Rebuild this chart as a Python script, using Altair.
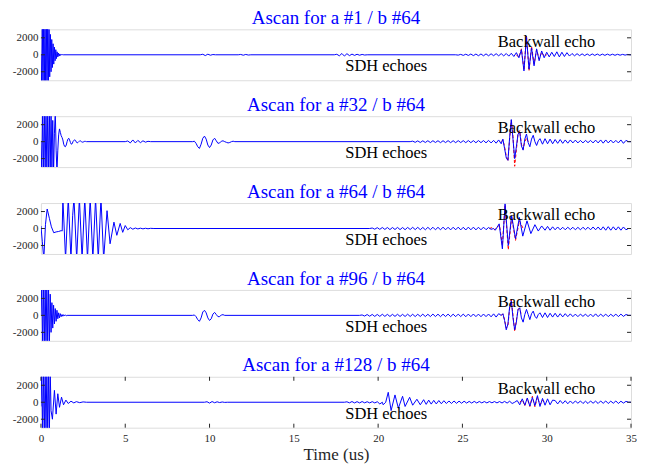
import altair as alt
import pandas as pd

# ---------------- data (time in us, amplitude) ----------------
# Each segment: (start_time, step, values)  or  (times_list, values_list)

# Panel 1 : a #1
P1_BURST = [0, -3600, 3600, -3600, 3600, -3600, 3600, -3600, 3600, -3600, 3400, -3200, 3000,
            -2600, 2400, -2000, 1800, -1500, 1300, -1100, 900, -700, 600, -450, 350, -250, 200,
            -150, 100, -70, 50, -30, 20, 0]
P1_W1 = [0, 60, -90, 70, -50, 30, 0]
P1_W2 = [0, 40, -50, 40, -30, 0]
P1_W3 = [0, 60, -120, 150, -150, 130, -100, 80, -70, 60, -50, 40, -30, 0]
P1_W4 = [0, -40, 50, -70, 70, -80, 90, -100, 90, -110, 100, -120, 110, -120, 120, -110, 130,
         -120, 140, -130, 150, -160, 180, -200, 250, -350, 600, -1900, 2100, -1700, 800, -1300,
         700, -700, 450, -350, 300, -250, 300, -200, 350, -250, 300, -200, 250, -150, 150, -120,
         130, -100, 110, -100, 100, -90, 100, -80, 90, -80, 80, -70, 80, -60, 70, -60, 60, -50,
         50, -40, 40, 0]
P1_RED = [0, -300, 700, -1800, 2300, -1900, 1000, -1100, 600, -500, 300, -150, 0]

# Panel 2 : a #32
P2_BURST = [0, -3600, 3600, -3600, 3600, -3600, 3600, -3600, 3600, -3600, 3600, -3600, 3600,
            -3000, 2500, -3600, 1000, 3600, -1000, -3600, -1000, 800, 1500, 1100, 700, 500, 200,
            -300, -550, -600, -400, 0, 300, 400, 200, -100, -300, -250, 0, 150, 200, 150, -50,
            -150, -100, 0, 100, 80, 0, -60, -50, 0, 40, 30, 0]
P2_W1 = [0, 80, -150, 200, -150, 150, -120, 100, -60, 40, 0]
P2_SDH = [0, 50, -200, -600, -800, -300, 400, 650, 300, -400, -700, -400, 200, 400, 100, -200,
          -150, 50, 100, 0, -80, -150, -100, 0, 50, 0]
P2_W2 = [0, 60, -80, 90, -100, 100, -100, 110, -110, 110, -100, 110, -120, 110, -110, 120, -120,
         110, -120, 120, -110, 120, -120, 130, -120, 120, -130, 130, -120, 130, -140, 150, -150,
         150, -180, 200, -250]
P2_BW = [300, -800, -1900, -2200, 500, 2600, 300, -2000, -600, 900, 1100, -500, -1000, 300, 900,
         -100, -600, 300, 750, 0, -450, 100]
P2_W3 = [350, -300, 350, -250, 300, -250, 250, -200, 250, -200, 200, -180, 200, -150, 180, -150,
         150, -150, 150, -120, 150, -150, 180, -150, 200, -180, 200, -150, 180, -150, 150, -150,
         200, -200, 150, 0]
P2_RED = [0, 200, -600, -1700, -2300, 300, 2500, 600, -2900, -1000, 1000, 1300, -300, -900, 0,
          400, 0]

# Panel 3 : a #64
P3_BURST_T = [0, 0.08, 0.17, 0.27, 0.37, 0.5, 0.62, 0.76, 0.9, 1.05, 1.2, 1.26, 1.3, 1.46, 1.62,
              1.78, 1.88, 1.96, 2.12, 2.28, 2.44, 2.6, 2.76, 2.92, 3.08, 3.24, 3.4, 3.56, 3.72,
              3.92, 4.1, 4.33, 4.5, 4.7, 4.85, 5.0, 5.15, 5.3, 5.45, 5.6, 5.75, 5.9, 6.05, 6.2,
              6.35, 6.5, 6.7]
P3_BURST_V = [300, -1500, -3600, 500, 2300, 1200, 200, -500, -400, -350, -250, -300, 3600, -3600,
              3600, -3600, 1500, 3600, -3600, 3600, -3600, 3600, -3600, 3600, -3600, 3600, -3600,
              3600, -3600, 2100, -1800, 750, -800, 600, -450, 350, -150, 100, -80, 60, -50, 40,
              -40, 30, -30, 20, 0]
P3_W1 = [0, 60, -80, 100, -100, 120, -110, 120, -130, 120, -120, 130, -130, 120, -140, 130, -120,
         140, -130, 140, -140, 130, -150, 140, -140, 150, -150, 140, -150, 160, -150, 150, -160,
         150, -150, 160, -160, 150, -170, 160, -150, 160, -160, 150, -150, 160, -140, 120, -100, 0]
P3_BW_T = [26.95, 27.18, 27.37, 27.53, 27.72, 27.92, 28.15, 28.38, 28.58, 28.83, 29.06, 29.3,
           29.5, 29.7, 29.9]
P3_BW_V = [-200, 550, -2400, 2900, -2000, 1500, -1200, 1300, -900, 900, -600, 450, -300, 300, -200]
P3_W2 = [250, -200, 200, -150, 180, -150, 150, -150, 150, -130, 150, -150, 140, -150, 150, -130,
         150, -150, 180, -150, 180, -180, 200, -200, 220, -200, 200, -180, 200, -200, 180, -150, 0]
P3_RED_T = [26.6, 26.75, 26.9, 27.05, 27.2, 27.37, 27.53, 27.72, 27.92, 28.15, 28.38, 28.6]
P3_RED_V = [0, 100, -150, 150, 400, -2000, 2800, -2500, 1300, -1400, 900, 0]

# Panel 4 : a #96
P4_BURST = [0, 3600, -3600, 3600, -3600, 3600, -3600, 3600, -3600, 3600, -3600, 2500, -2000,
            1500, -1500, 1200, -1000, 800, -700, 600, -400, 300, -300, 200, -150, 100, -100, 80,
            -60, 50, -40, 0]
P4_SDH = [0, 50, -150, -500, -700, -300, 400, 600, 300, -300, -600, -400, 150, 350, 100, -150,
          -150, 50, 80, 0]
P4_W1 = [0, 50, -80, 100, -100, 110, -120, 110, -120, 130, -120, 120, -130, 120, -120, 130, -130,
         120, -130, 140, -130, 130, -140, 130, -130, 140, -140, 130, -140, 150, -140, 140, -150,
         140, -140, 150, -150, 140, -150, 150, -140, 150, -160, 150, -150, 160, -150, 150, -160,
         160, -150, 160, -170, 180, -200, 200, 0]
P4_BW = [200, -600, -1700, -1000, 1000, 1700, -300, -1700, -800, 700, 900, -300, -800, 100, 700,
         100, -500, 200, 500, -100, -350, 100]
P4_W2 = [300, -250, 300, -250, 250, -200, 250, -200, 200, -180, 200, -150, 180, -150, 150, -150,
         150, -120, 150, -150, 150, -150, 180, -150, 150, -130, 150, -150, 130, -120, 150, -150,
         150, -120, 100, 0]
P4_RED = [0, 150, -500, -1500, -1200, 800, 1900, 0, -1900, -600, 700, 800, 0]

# Panel 5 : a #128
P5_BURST_T = [0, 0.05, 0.1, 0.15, 0.2, 0.25, 0.3, 0.35, 0.4, 0.45, 0.5, 0.55, 0.6, 0.68, 0.8,
              0.9, 1.0, 1.1, 1.22, 1.34, 1.48, 1.62, 1.78, 1.95, 2.1, 2.3, 2.5, 2.7]
P5_BURST_V = [-500, 3600, -3600, 3600, -3600, 3600, -3600, 3600, -3600, 3600, -3600, 3600, -1000,
              -2000, 1400, -1400, 1000, -600, 600, -300, 250, -150, 120, -80, 70, -50, 40, 0]
P5_W1 = [0, 60, -100, 80, -60, 50, -40, 30, -20, 0]
P5_W2 = [0, 50, -70, 80, -80, 70, -80, 80, -70, 60, -80, 70, -80, 60, -200, 0]
P5_SDH_T = [20.3, 20.45, 20.6, 20.77, 21.0, 21.2, 21.45, 21.6, 21.87, 22.05, 22.3, 22.5]
P5_SDH_V = [-300, 0, 1170, -980, 860, -700, 700, -500, 580, -350, 350, -300]
P5_W3 = [300, -250, 250, -220, 220, -200, 200, -180, 180, -150, 150, -150, 150, -130, 130, -120,
         120, -100, 100, -100, 100, -90, 90, -80, 80, -80, 80, -70, 80, -80, 80, -90, 100, -100,
         120, -150, 0]
P5_BW = [200, -300, 400, -350, 500, -450, 550, -400, 780, -500, 450, -350, 400, -300, 250]
P5_W4 = [200, -200, 200, -150, 180, -180, 150, -150, 150, -120, 150, -150, 120, -150, 150, -120,
         130, -150, 150, -130, 150, -150, 130, -120, 150, -150, 120, -100, 100, 0]
P5_RED = [0, 300, -400, 450, -500, 700, -550, 600, -300, 200, 0]

PANELS = [
    {"a": 1,
     "blue": [(0.0, 0.04, P1_BURST), (9.45, 0.15, P1_W1), (11.7, 0.15, P1_W2),
              (17.4, 0.15, P1_W3), (24.6, 0.15, P1_W4)],
     "red": [(28.2, 0.15, P1_RED)]},
    {"a": 32,
     "blue": [(0.0, 0.05, P2_BURST), (5.0, 0.15, P2_W1), (9.0, 0.1, P2_SDH),
              (21.9, 0.15, P2_W2), (27.4, 0.1, P2_BW), (29.6, 0.15, P2_W3)],
     "red": [(27.3, 0.1, P2_RED)]},
    {"a": 64,
     "blue": [(P3_BURST_T, P3_BURST_V), (19.5, 0.15, P3_W1), (P3_BW_T, P3_BW_V),
              (30.05, 0.15, P3_W2)],
     "red": [(P3_RED_T, P3_RED_V)]},
    {"a": 96,
     "blue": [(0.0, 0.05, P4_BURST), (9.0, 0.1, P4_SDH), (18.9, 0.15, P4_W1),
              (27.4, 0.1, P4_BW), (29.6, 0.15, P4_W2)],
     "red": [(27.3, 0.1, P4_RED)]},
    {"a": 128,
     "blue": [(P5_BURST_T, P5_BURST_V), (9.7, 0.15, P5_W1), (18.0, 0.15, P5_W2),
              (P5_SDH_T, P5_SDH_V), (22.7, 0.15, P5_W3), (28.25, 0.15, P5_BW),
              (30.5, 0.15, P5_W4)],
     "red": [(28.4, 0.15, P5_RED)]},
]

Y_TICKS = [-2000, 0, 2000]
X_TICKS = [0, 5, 10, 15, 20, 25, 30, 35]
LABELS = [("Backwall echo", 27.1, 1550), ("SDH echoes", 18.05, -1350)]

# ---------------- chart ----------------
W, H = 591, 51
SERIF = "Liberation Serif"
FRAME = "#262626"


def to_frame(segs, end=None):
    ts, vs = [], []
    for seg in segs:
        if len(seg) == 3:
            t0, dt, vals = seg
            ts += [round(t0 + i * dt, 4) for i in range(len(vals))]
            vs += list(vals)
        else:
            ts += list(seg[0])
            vs += list(seg[1])
    if end is not None:
        ts.append(end)
        vs.append(0)
    return pd.DataFrame({"t": ts, "v": vs, "i": range(len(ts))})


xscale = alt.Scale(domain=[0, 35], nice=False, zero=False)
yscale = alt.Scale(domain=[-3000, 3000], nice=False, zero=False)
YLABEL = "datum.value < 0 ? '-' + (-datum.value) : '' + datum.value"

panels = []
for k, p in enumerate(PANELS):
    last = k == len(PANELS) - 1
    if last:
        xaxis = alt.Axis(values=X_TICKS, ticks=False, domain=False, grid=False,
                         title="Time (us)", labelFont=SERIF, labelFontSize=11,
                         labelColor=FRAME, labelPadding=5, labelOverlap=False,
                         titleFont=SERIF, titleFontSize=17, titleFontWeight="normal",
                         titleColor=FRAME, titlePadding=3, labelFlush=False)
    else:
        xaxis = None
    yaxis = alt.Axis(values=Y_TICKS, ticks=False, domain=False, grid=False, title=None,
                     labelFont=SERIF, labelFontSize=11, labelColor=FRAME, labelPadding=3,
                     labelOverlap=False, labelExpr=YLABEL)

    blue_df = to_frame(p["blue"], end=35.0)
    red_df = to_frame(p["red"])

    red = alt.Chart(red_df).mark_line(color="#FF0000", strokeWidth=1, strokeDash=[3, 2],
                                      clip=True).encode(
        x=alt.X("t:Q", scale=xscale, axis=xaxis),
        y=alt.Y("v:Q", scale=yscale, axis=yaxis),
        order="i:Q")
    blue = alt.Chart(blue_df).mark_line(color="#0000FF", strokeWidth=1, clip=True).encode(
        x=alt.X("t:Q", scale=xscale, axis=xaxis),
        y=alt.Y("v:Q", scale=yscale, axis=yaxis),
        order="i:Q")

    lab_df = pd.DataFrame({"txt": [l[0] for l in LABELS], "t": [l[1] for l in LABELS],
                           "v": [l[2] for l in LABELS]})
    text = alt.Chart(lab_df).mark_text(font=SERIF, fontSize=16.5, align="left",
                                       baseline="middle", color="black").encode(
        x=alt.X("t:Q", scale=xscale, axis=xaxis),
        y=alt.Y("v:Q", scale=yscale, axis=yaxis), text="txt:N")

    yt = pd.DataFrame({"v": Y_TICKS})
    ytl = alt.Chart(yt).mark_rule(color=FRAME, strokeWidth=1).encode(
        y=alt.Y("v:Q", scale=yscale, axis=yaxis), x=alt.value(0), x2=alt.value(4))
    ytr = alt.Chart(yt).mark_rule(color=FRAME, strokeWidth=1).encode(
        y=alt.Y("v:Q", scale=yscale, axis=yaxis), x=alt.value(W - 4), x2=alt.value(W))
    layers = [red, blue, text, ytl, ytr]
    if last:
        xt = pd.DataFrame({"t": X_TICKS})
        layers.append(alt.Chart(xt).mark_rule(color=FRAME, strokeWidth=1).encode(
            x=alt.X("t:Q", scale=xscale, axis=xaxis), y=alt.value(0), y2=alt.value(4)))
        layers.append(alt.Chart(xt).mark_rule(color=FRAME, strokeWidth=1).encode(
            x=alt.X("t:Q", scale=xscale, axis=xaxis), y=alt.value(H - 4), y2=alt.value(H)))

    panel = alt.layer(*layers).properties(
        width=W, height=H,
        title=alt.TitleParams(text=f"Ascan for a #{p['a']} / b #64", font=SERIF, fontSize=19,
                              fontWeight="normal", color="#0000FF", offset=1,
                              anchor="middle"))
    panels.append(panel)

chart = alt.vconcat(*panels, spacing=36, bounds="flush").properties(
    padding={"left": 3, "top": 0, "right": 0, "bottom": 0}
).configure_view(stroke=FRAME, strokeWidth=1).configure_axis(
    labelOverlap=False, labelFlush=False
).configure(background="white")

chart.save("out.html", embed_options={"renderer": "svg", "actions": False})
